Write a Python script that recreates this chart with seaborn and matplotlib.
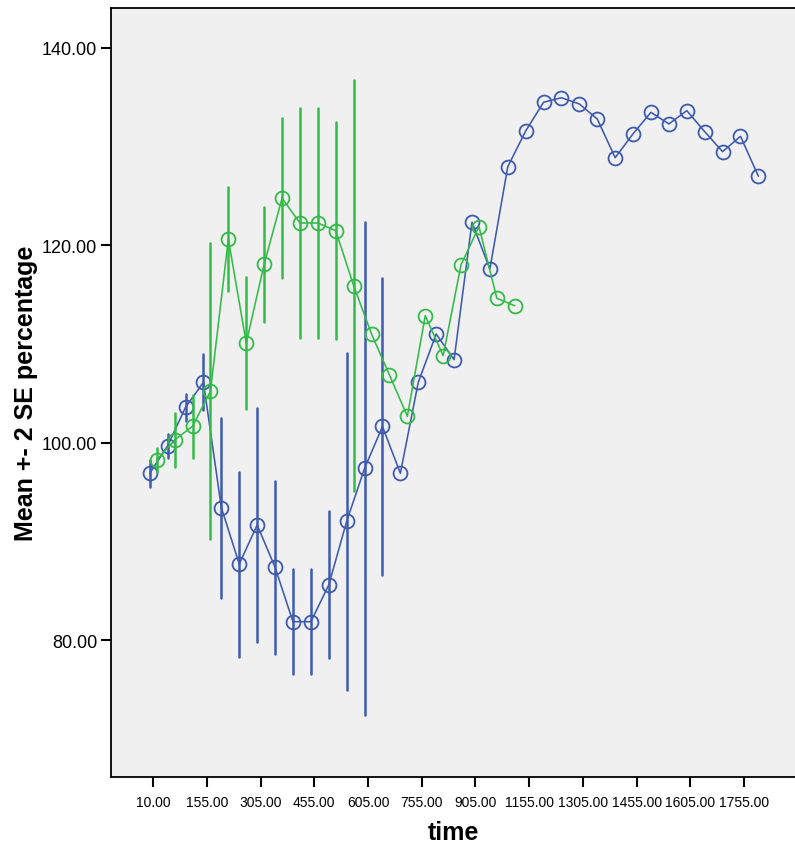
import matplotlib
matplotlib.use("Agg")
import matplotlib.pyplot as plt
import seaborn as sns
import pandas as pd
import numpy as np

# ---- data -------------------------------------------------------------
times = [10, 55, 105, 155, 205, 255, 305, 355, 405, 455, 505, 555, 605, 655,
         705, 755, 805, 855, 905, 955, 1055, 1155, 1205, 1255, 1305, 1355,
         1405, 1455, 1505, 1555, 1605, 1655, 1705, 1755, 1805]

blue_mean = [96.90, 99.69, 103.59, 106.12, 93.41, 87.70, 91.66, 87.37, 81.86,
             81.86, 85.58, 92.03, 97.40, 101.64, 96.90, 106.12, 111.01, 108.41,
             122.34, 117.60, 127.97, 131.59, 134.50, 134.96, 134.32, 132.80,
             128.88, 131.31, 133.48, 132.30, 133.65, 131.52, 129.49, 131.05,
             127.00]
blue_err = [1.38, 1.23, 1.35, 2.82, 9.12, 9.37, 11.86, 8.79, 5.29, 5.29, 7.45,
            17.06, 24.97, 15.02, 0, 0, 0, 0, 0, 0, 0, 0, 0, 0, 0, 0, 0, 0, 0,
            0, 0, 0, 0, 0, 0]

green_mean = [98.24, 100.27, 101.66, 105.21, 120.64, 110.10, 118.08, 124.77,
              122.26, 122.26, 121.48, 115.91, 111.01, 106.86, 102.67, 112.87,
              108.81, 118.04, 121.89, 114.63, 113.88]
green_err = [1.18, 2.69, 3.21, 14.98, 5.29, 6.69, 5.81, 8.11, 11.67, 11.67,
             10.98, 20.83, 0, 0, 0, 0, 0, 0, 0, 0, 0]

groups = ["1", "2"]
colors = ["#3d5aae", "#33bb48"]

# ---- long table: mean-e, mean, mean+e per point -----------------------
time_labels = [f"{t:.2f}" for t in times]
rows = []
for g, means, errs in [(groups[0], blue_mean, blue_err),
                       (groups[1], green_mean, green_err)]:
    for t, m, e in zip(time_labels, means, errs):
        for v in (m - e, m, m + e):
            rows.append({"time": t, "value": v, "group": g})
df = pd.DataFrame(rows)

# ---- figure -----------------------------------------------------------
sns.set_style("ticks")
plt.rcParams["font.family"] = ["Liberation Sans", "DejaVu Sans"]
plt.rcParams["text.color"] = "black"
plt.rcParams["axes.labelcolor"] = "black"
plt.rcParams["xtick.color"] = "black"
plt.rcParams["ytick.color"] = "black"
plt.rcParams["xtick.labelcolor"] = "black"
plt.rcParams["ytick.labelcolor"] = "black"

fig = plt.figure(figsize=(7.95, 8.45), dpi=100)
ax = fig.add_axes([111 / 795, 1 - 778 / 845, 1 - 111 / 795, (778 - 9) / 845])
ax.set_facecolor("#f0f0f0")

sns.pointplot(
    data=df, x="time", y="value", hue="group",
    order=time_labels, hue_order=groups, palette=colors,
    dodge=0.39, estimator="mean",
    errorbar=lambda v: (v.min(), v.max()),
    markers="o", linestyles="-",
    markersize=10, markerfacecolor="none", markeredgewidth=1.3,
    linewidth=1.15, err_kws={"linewidth": 1.8},
    legend=False, ax=ax,
)

ax.set_xlim(-2.36, 35.85)
ax.set_ylim(66.12, 144.05)

ax.set_xticks(range(0, len(times), 3))
ax.set_xticklabels([time_labels[i] for i in range(0, len(times), 3)],
                   fontsize=10, color="black")
ax.set_yticks([80, 100, 120, 140])
ax.set_yticklabels([f"{v:.2f}" for v in [80, 100, 120, 140]], fontsize=13,
                   color="black")

ax.tick_params(axis="both", direction="out", length=7, width=1.5,
               color="black")
ax.tick_params(axis="x", pad=6)
ax.tick_params(axis="y", pad=3)

for side in ["left", "top", "bottom"]:
    ax.spines[side].set_visible(True)
    ax.spines[side].set_color("black")
    ax.spines[side].set_linewidth(1.3)
ax.spines["right"].set_visible(False)

ax.set_xlabel("time", fontsize=18, fontweight="bold", labelpad=8,
              color="black")
ax.set_ylabel("Mean +- 2 SE percentage", fontsize=18, fontweight="bold",
              labelpad=3, color="black")

fig.savefig("out.png", dpi=100, facecolor="white")
